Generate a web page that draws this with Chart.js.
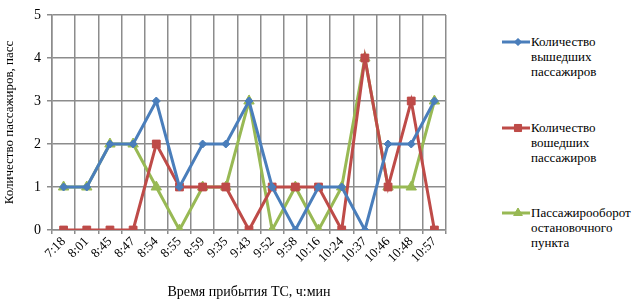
<!DOCTYPE html>
<html>
<head>
<meta charset="utf-8">
<script src="https://cdn.jsdelivr.net/npm/chart.js@4"></script>
<style>
  html, body { margin: 0; padding: 0; background: #fff; }
  #wrap { position: relative; width: 641px; height: 307px; }
  #chart { position: absolute; left: 0; top: 0; }
  .leg { position: absolute; left: 502px; font: 13px "Liberation Serif", "Times New Roman", "DejaVu Serif", serif; color: #000; line-height: 15px; }
  .leg .key { position: absolute; left: 0; top: 0; width: 28px; height: 15px; }
  .leg .txt { position: absolute; left: 29px; top: 0; white-space: nowrap; }
</style>
</head>
<body>
<div id="wrap">
  <canvas id="chart" width="490" height="307"></canvas>
  <div class="leg" style="top:34px"><canvas class="key" id="k0" width="28" height="15"></canvas><div class="txt">Количество<br>вышедших<br>пассажиров</div></div>
  <div class="leg" style="top:120px"><canvas class="key" id="k1" width="28" height="15"></canvas><div class="txt">Количество<br>вошедших<br>пассажиров</div></div>
  <div class="leg" style="top:205px"><canvas class="key" id="k2" width="28" height="15"></canvas><div class="txt">Пассажирооборот<br>остановочного<br>пункта</div></div>
</div>
<script>
// ── data ─────────────────────────────────────────────
const times     = ['7:18','8:01','8:45','8:47','8:54','8:55','8:59','9:35','9:43','9:52','9:58','10:16','10:24','10:37','10:46','10:48','10:57'];
const exited    = [1,1,2,2,3,1,2,2,3,1,0,1,1,0,2,2,3];
const entered   = [0,0,0,0,2,1,1,1,0,1,1,1,0,4,1,3,0];
const turnover  = [1,1,2,2,1,0,1,1,3,0,1,0,1,4,1,1,3];
const seriesNames = ['Количество вышедших пассажиров','Количество вошедших пассажиров','Пассажирооборот остановочного пункта'];

const BLUE  = '#4a7ebb';
const RED   = '#be4b48';
const GREEN = '#98b954';
const SERIF = "'Liberation Serif', 'Times New Roman', 'DejaVu Serif', serif";

function ds(label, data, color, style, r) {
  return {
    label, data,
    borderColor: color, backgroundColor: color,
    borderWidth: 3, pointStyle: style, pointRadius: r,
    pointBorderWidth: 1, pointBorderColor: color,
    tension: 0
  };
}

new Chart(document.getElementById('chart'), {
  type: 'line',
  data: {
    labels: times,
    datasets: [
      ds(seriesNames[0], exited,   BLUE,  'rectRot', 4),
      ds(seriesNames[1], entered,  RED,   'rect',    5.5),
      ds(seriesNames[2], turnover, GREEN, 'triangle', 6)
    ]
  },
  options: {
    responsive: false,
    animation: false,
    layout: { padding: { top: 15, right: 44, left: 0, bottom: 0 } },
    plugins: { legend: { display: false }, tooltip: { enabled: false } },
    scales: {
      x: {
        offset: true,
        grid: { offset: true, color: '#8c8c8c', lineWidth: 1.5, tickLength: 4 },
        border: { color: '#8c8c8c', width: 1.5 },
        ticks: { maxRotation: 45, minRotation: 45, autoSkip: false, color: '#000', font: { family: SERIF, size: 13 }, padding: 0 },
        title: { display: true, text: 'Время прибытия ТС, ч:мин', color: '#000', font: { family: SERIF, size: 14 }, padding: { top: 0, bottom: 6 } },
        afterFit: s => { s.height = 77; }
      },
      y: {
        min: 0, max: 5,
        grid: { color: '#8c8c8c', lineWidth: 1.5, tickLength: 5 },
        border: { color: '#8c8c8c', width: 1.5 },
        ticks: { stepSize: 1, color: '#000', font: { family: SERIF, size: 14 }, padding: 6 },
        title: { display: true, text: 'Количество пассажиров, пасс', color: '#000', font: { family: SERIF, size: 13 }, padding: 2 },
        afterFit: s => { s.width = 52; }
      }
    }
  }
});

// legend keys
[[BLUE,'rectRot',3.5],[RED,'rect',5],[GREEN,'triangle',5]].forEach(([c, st, r], i) => {
  const ctx = document.getElementById('k' + i).getContext('2d');
  ctx.strokeStyle = c; ctx.lineWidth = 3;
  ctx.beginPath(); ctx.moveTo(0, 8); ctx.lineTo(28, 8); ctx.stroke();
  ctx.fillStyle = c; ctx.strokeStyle = c; ctx.lineWidth = 1;
  Chart.helpers.drawPoint(ctx, { pointStyle: st, radius: r, rotation: 0, borderWidth: 1 }, 16, 8);
  ctx.fill();
});
</script>
</body>
</html>
